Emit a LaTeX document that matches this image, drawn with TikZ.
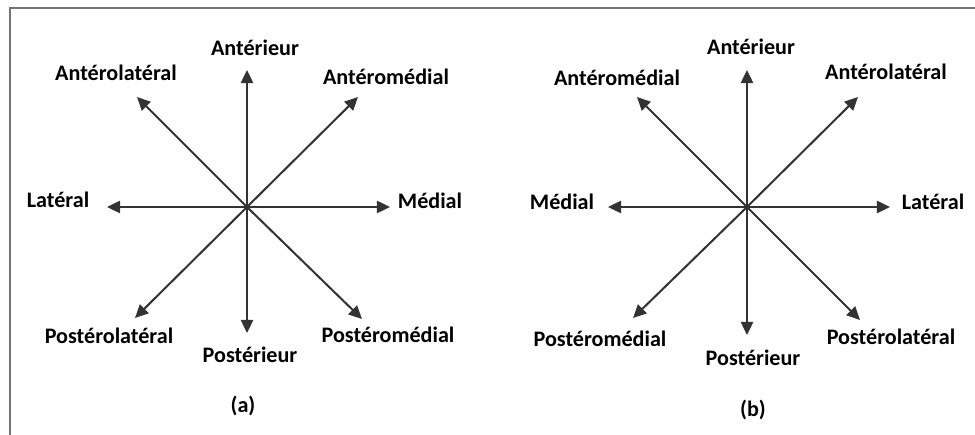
\documentclass[tikz,border=0pt]{standalone}
\usepackage{fontspec}
\setmainfont{Carlito}
\usetikzlibrary{arrows.meta}
\tikzset{
  dirlbl/.style={font=\bfseries\fontsize{12.6}{14}\selectfont, inner sep=1pt},
  caplbl/.style={font=\bfseries\fontsize{12.6}{14}\selectfont, inner sep=1pt},
  dirarr/.style={-{Triangle[length=7.5pt,width=7pt]}, line width=1.15pt, draw=black!80},
  frame/.style={draw=black!55, line width=1.7pt},
}
\begin{document}
\begin{tikzpicture}[x=0.02cm, y=-0.02cm]
\useasboundingbox (0,0) rectangle (975,435);
\draw[frame] (10,435) -- (10,8) -- (975,8);

% (a)
\coordinate (ca) at (247,207);
\coordinate (ta-n) at (247,70);
\coordinate (ta-s) at (247,333);
\coordinate (ta-w) at (107,207);
\coordinate (ta-e) at (390,207);
\coordinate (ta-nw) at (137,97);
\coordinate (ta-ne) at (358,97);
\coordinate (ta-sw) at (135,318);
\coordinate (ta-se) at (362,319);
\draw[dirarr] (ca) -- (ta-n);
\draw[dirarr] (ca) -- (ta-s);
\draw[dirarr] (ca) -- (ta-w);
\draw[dirarr] (ca) -- (ta-e);
\draw[dirarr] (ca) -- (ta-nw);
\draw[dirarr] (ca) -- (ta-ne);
\draw[dirarr] (ca) -- (ta-sw);
\draw[dirarr] (ca) -- (ta-se);
\node[dirlbl] (la-n) at (255,48) {Antérieur};
\node[dirlbl] (la-nw) at (116,73) {Antérolatéral};
\node[dirlbl] (la-ne) at (386,77) {Antéromédial};
\node[dirlbl] (la-w) at (58,200) {Latéral};
\node[dirlbl] (la-e) at (430,201) {Médial};
\node[dirlbl] (la-sw) at (109,336) {Postérolatéral};
\node[dirlbl] (la-s) at (250,355) {Postérieur};
\node[dirlbl] (la-se) at (388,335) {Postéromédial};
\node[caplbl] (capa) at (243,406) {(a)};

% (b)
\coordinate (cb) at (747,207);
\coordinate (tb-n) at (747,70);
\coordinate (tb-s) at (747,335);
\coordinate (tb-w) at (608,207);
\coordinate (tb-e) at (890,207);
\coordinate (tb-nw) at (637,97);
\coordinate (tb-ne) at (858,97);
\coordinate (tb-sw) at (633,318);
\coordinate (tb-se) at (860,320);
\draw[dirarr] (cb) -- (tb-n);
\draw[dirarr] (cb) -- (tb-s);
\draw[dirarr] (cb) -- (tb-w);
\draw[dirarr] (cb) -- (tb-e);
\draw[dirarr] (cb) -- (tb-nw);
\draw[dirarr] (cb) -- (tb-ne);
\draw[dirarr] (cb) -- (tb-sw);
\draw[dirarr] (cb) -- (tb-se);
\node[dirlbl] (lb-n) at (751,47) {Antérieur};
\node[dirlbl] (lb-nw) at (617,78) {Antéromédial};
\node[dirlbl] (lb-ne) at (886,72) {Antérolatéral};
\node[dirlbl] (lb-w) at (562,202) {Médial};
\node[dirlbl] (lb-e) at (933,202) {Latéral};
\node[dirlbl] (lb-sw) at (600,339) {Postéromédial};
\node[dirlbl] (lb-s) at (753,358) {Postérieur};
\node[dirlbl] (lb-se) at (891,337) {Postérolatéral};
\node[caplbl] (capb) at (753,410) {(b)};
\end{tikzpicture}
\end{document}
